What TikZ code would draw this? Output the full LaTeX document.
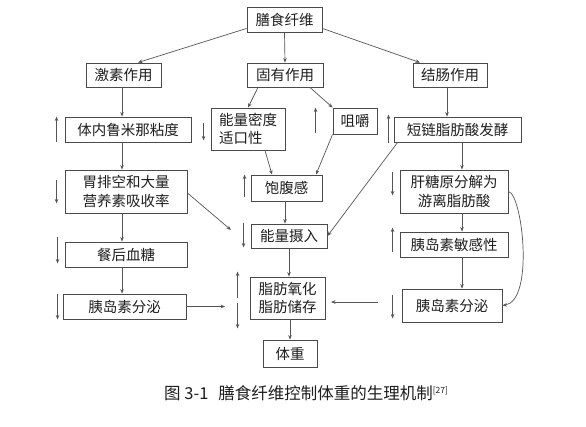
\documentclass[tikz,border=0pt]{standalone}
\usepackage{fontspec}
\setmainfont{Noto Sans CJK SC}
\usetikzlibrary{arrows.meta}
\definecolor{boxc}{HTML}{4A4A4A}
\definecolor{linec}{HTML}{555555}
\definecolor{txtc}{HTML}{1E1E1E}
\tikzset{
  bx/.style={draw=boxc, line width=0.9pt, inner sep=0pt, text=txtc, font=\fontsize{14.5}{18.5}\selectfont, align=center},
  arr/.style={draw=linec, line width=0.7pt, -{Stealth[length=4.5pt,width=3.6pt]}},
}
\begin{document}
\begin{tikzpicture}[x=1pt,y=-1pt]
\useasboundingbox[fill=white] (0,0) rectangle (586,427);
% nodes
\node[bx, minimum width=75pt, minimum height=25pt] (fiber) at (284.5,19.5) {膳食纤维};
\node[bx, minimum width=75pt, minimum height=24pt] (horm) at (123.5,75) {激素作用};
\node[bx, minimum width=76pt, minimum height=24pt] (inher) at (285,75) {固有作用};
\node[bx, minimum width=74pt, minimum height=24pt] (colon) at (450,75) {结肠作用};
\node[bx, minimum width=126pt, minimum height=25pt] (visc) at (128,129.5) {体内鲁米那粘度};
\node[bx, minimum width=74pt, minimum height=42pt, align=left] (dens) at (248,129) {能量密度\\适口性};
\node[bx, minimum width=44pt, minimum height=26pt] (chew) at (355,121) {咀嚼};
\node[bx, minimum width=127pt, minimum height=25pt] (scfa) at (457.5,129.5) {短链脂肪酸发酵};
\node[bx, minimum width=122pt, minimum height=43pt] (gast) at (126,191.5) {胃排空和大量\\营养素吸收率};
\node[bx, minimum width=71pt, minimum height=26pt] (sat) at (286.5,188) {饱腹感};
\node[bx, minimum width=108pt, minimum height=43pt] (liver) at (454,191.5) {肝糖原分解为\\游离脂肪酸};
\node[bx, minimum width=76pt, minimum height=24pt] (intake) at (289,236) {能量摄入};
\node[bx, minimum width=122pt, minimum height=25pt] (glu) at (126,254.5) {餐后血糖};
\node[bx, minimum width=108pt, minimum height=25pt] (sens) at (454,244.5) {胰岛素敏感性};
\node[bx, minimum width=123pt, minimum height=25pt] (insL) at (124.5,306.5) {胰岛素分泌};
\node[bx, minimum width=75pt, minimum height=42pt] (fat) at (287.5,298) {脂肪氧化\\脂肪储存};
\node[bx, minimum width=100pt, minimum height=33pt] (insR) at (452,305.5) {胰岛素分泌};
\node[bx, minimum width=54pt, minimum height=27pt] (wt) at (290,353.5) {体重};
\node[anchor=west, inner sep=0pt, text=txtc, font=\fontsize{16.5}{18}\selectfont] (cap) at (164,393) {图 3-1\hspace{0.6em}膳食纤维控制体重的生理机制\textsuperscript{\fontsize{8.5}{9}\selectfont[27]}};
% free-end coordinates
\coordinate (gastEnd) at (231,230);
\coordinate (insLEnd) at (225,306.5);
\coordinate (insRStart) at (378,302);
\coordinate (insREnd) at (331,302);
% connectors
\draw[arr] ([yshift=4pt]fiber.south west) -- ([xshift=14.5pt]horm.north);
\draw[arr] (fiber.south) -- (inher.north);
\draw[arr] ([yshift=4pt]fiber.south east) -- ([xshift=-30pt]colon.north);
\draw[arr] ([xshift=-1.5pt]horm.south) -- ([xshift=-6pt]visc.north);
\draw[arr] ([xshift=-27pt]inher.south) -- (dens.north);
\draw[arr] ([xshift=25pt]inher.south) -- (chew.north west);
\draw[arr] ([xshift=-3pt]colon.south) -- ([xshift=-10.5pt]scfa.north);
\draw[arr] ([xshift=-6pt]visc.south) -- ([xshift=-4pt]gast.north);
\draw[arr] ([xshift=17pt]dens.south) -- ([xshift=-14.5pt]sat.north);
\draw[arr] (chew.south west) -- ([xshift=29.5pt]sat.north);
\draw[arr] ([xshift=4.5pt]scfa.south) -- ([xshift=8pt]liver.north);
\draw[arr] ([xshift=4pt]scfa.south west) -- (intake.east);
\draw[arr] ([yshift=-1.5pt]gast.east) -- (gastEnd);
\draw[arr] ([xshift=-1.5pt]sat.south) -- ([xshift=-4pt]intake.north);
\draw[arr] ([xshift=-4pt]gast.south) -- ([xshift=-4pt]glu.north);
\draw[arr] ([xshift=8pt]liver.south) -- ([xshift=8pt]sens.north);
\draw[arr] (liver.east) .. controls +(14,3) and +(32,-5) .. (insR.east);
\draw[arr] (intake.south) -- ([xshift=1.5pt]fat.north);
\draw[arr] ([xshift=-4pt]glu.south) -- ([xshift=-2.5pt]insL.north);
\draw[arr] ([xshift=8pt]sens.south) -- ([xshift=10pt]insR.north);
\draw[arr] (insL.east) -- (insLEnd);
\draw[arr] (insRStart) -- (insREnd);
\draw[arr] ([xshift=2.5pt]fat.south) -- (wt.north);
% side indicator arrows
\draw[arr] ([xshift=-8pt]visc.south west) -- ([xshift=-8pt]visc.north west);
\draw[arr] ([xshift=-7pt,yshift=-15pt]dens.north west) -- ([xshift=-7pt,yshift=10pt]dens.south west);
\draw[arr] ([xshift=-17pt,yshift=1pt]chew.south west) -- ([xshift=-17pt]chew.north west);
\draw[arr] ([xshift=-5pt,yshift=-1pt]scfa.south west) -- ([xshift=-5pt,yshift=2pt]scfa.north west);
\draw[arr] ([xshift=-8pt,yshift=-10pt]gast.north west) -- ([xshift=-8pt,yshift=10pt]gast.south west);
\draw[arr] ([xshift=-6pt,yshift=4pt]sat.south west) -- ([xshift=-6pt]sat.north west);
\draw[arr] ([xshift=-7pt,yshift=-2pt]liver.north west) -- ([xshift=-7pt,yshift=18pt]liver.south west);
\draw[arr] ([xshift=-7pt,yshift=1pt]intake.north west) -- ([xshift=-7pt,yshift=1pt]intake.south west);
\draw[arr] ([xshift=-7pt,yshift=5pt]glu.north west) -- ([xshift=-7pt,yshift=4pt]glu.south west);
\draw[arr] ([xshift=-7pt,yshift=5pt]sens.south west) -- ([xshift=-7pt,yshift=4pt]sens.north west);
\draw[arr] ([xshift=-5pt]insL.north west) -- ([xshift=-5pt]insL.south west);
\draw[arr] ([xshift=-12pt]fat.west) -- ([xshift=-12pt,yshift=5pt]fat.north west);
\draw[arr] ([xshift=-12pt,yshift=-5pt]fat.west) -- ([xshift=-12pt,yshift=-9pt]fat.south west);
\draw[arr] ([xshift=-9pt,yshift=-6pt]insR.north west) -- ([xshift=-9pt,yshift=4pt]insR.south west);
\end{tikzpicture}
\end{document}
